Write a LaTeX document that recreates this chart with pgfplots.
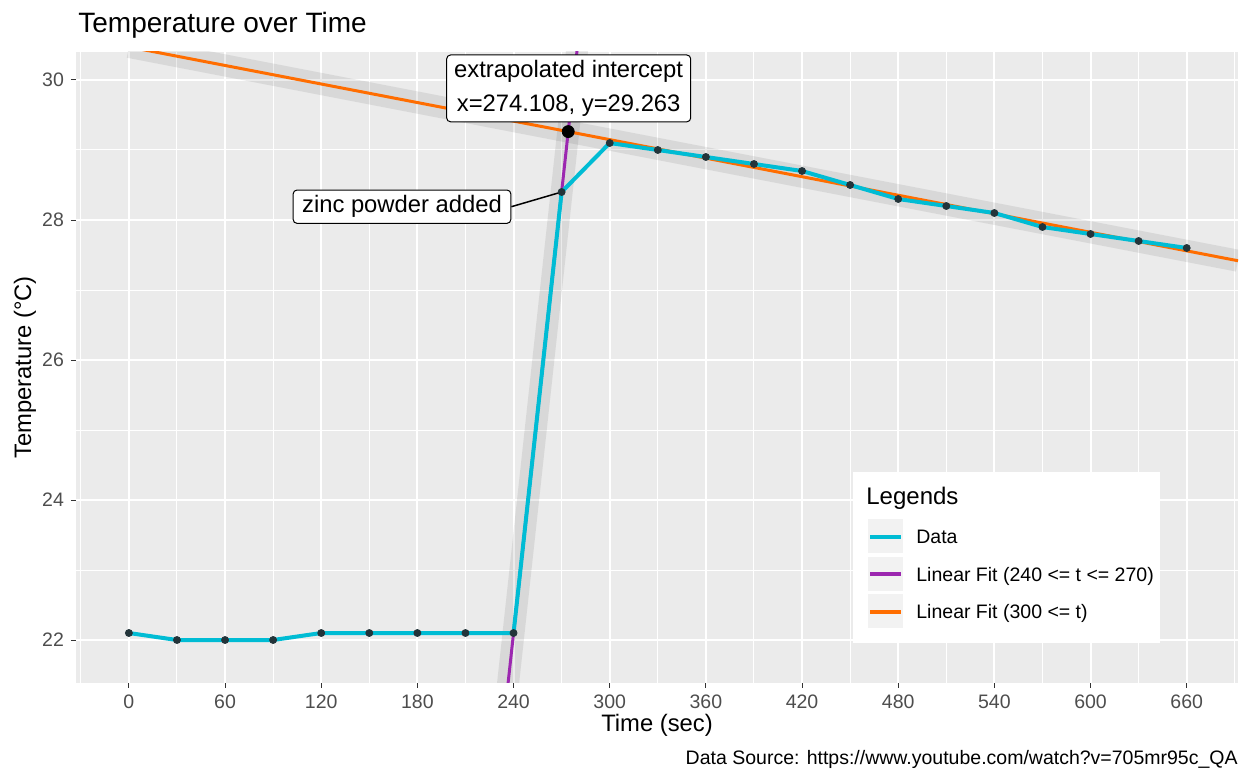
\documentclass[border=0pt]{standalone}
\usepackage{fontspec}
\setmainfont{Liberation Sans}
\usepackage{pgfplots}
\usepackage{pgfplotstable}
\pgfplotsset{compat=1.18}
\definecolor{panelbg}{HTML}{EBEBEB}
\definecolor{datacyan}{HTML}{00BCD4}
\definecolor{fitpurple}{HTML}{9C27B0}
\definecolor{fitorange}{HTML}{FF6D00}
\definecolor{ptcol}{RGB}{35,52,58}
\definecolor{ticklab}{HTML}{4D4D4D}
\definecolor{tickmark}{HTML}{333333}
\definecolor{keybg}{HTML}{F2F2F2}

\pgfplotstableread{
t T
0 22.1
30 22.0
60 22.0
90 22.0
120 22.1
150 22.1
180 22.1
210 22.1
240 22.1
270 28.4
300 29.1
330 29.0
360 28.9
390 28.8
420 28.7
450 28.5
480 28.3
510 28.2
540 28.1
570 27.9
600 27.8
630 27.7
660 27.6
}\datatable

\begin{document}
\begin{tikzpicture}[x=1pt,y=1pt]
\useasboundingbox (0,0) rectangle (622,385);
\begin{axis}[
  at={(38pt,43.5pt)}, anchor=south west,
  scale only axis, width=581pt, height=315.5pt,
  xmin=-33, xmax=692, ymin=21.386, ymax=30.4,
  axis background/.style={fill=panelbg},
  axis line style={draw=none},
  xtick={0,60,...,660}, ytick={22,24,26,28,30},
  minor xtick={-30,30,90,...,690}, minor ytick={21,23,...,29},
  grid=both,
  major grid style={white, line width=1pt},
  minor grid style={white, line width=0.5pt},
  tick align=outside,
  xtick pos=left, ytick pos=left,
  major tick length=2.5pt, minor tick length=0pt,
  tick style={tickmark, line width=0.5pt},
  ticklabel style={font=\fontsize{9.75}{11}\selectfont, text=ticklab},
  /pgf/number format/assume math mode=true,
  clip=true,
]
% bands
\addplot[draw=black, draw opacity=0.08, line width=11pt, line cap=butt, forget plot] coordinates {(235,21.05) (282,30.92)};
\addplot[draw=black, draw opacity=0.08, line width=11pt, line cap=butt, forget plot] coordinates {(0,30.4725) (692,27.418)};
% fits
\addplot[fitpurple, line width=1.5pt, forget plot] coordinates {(235,21.05) (282,30.92)};
\addplot[fitorange, line width=1.5pt, forget plot] coordinates {(-33,30.618) (692,27.418)};
% data
\addplot[datacyan, line width=2pt, forget plot] table[x=t, y=T] {\datatable};
\addplot[only marks, mark=*, mark size=1.75pt, ptcol, forget plot] table[x=t, y=T] {\datatable};
% intercept
\addplot[only marks, mark=*, mark size=3pt, black, forget plot] coordinates {(274.108,29.263)};
% annotations
\node[draw=black, fill=white, rounded corners=2pt, line width=0.5pt, align=center,
      inner xsep=3.8pt, inner ysep=2.8pt, font=\fontsize{11.9}{16.75}\selectfont]
  at (axis cs:274.4,29.88) {extrapolated intercept\\x=274.108, y=29.263};
\node[draw=black, fill=white, rounded corners=2pt, line width=0.5pt,
      inner xsep=4.5pt, inner ysep=2.8pt, font=\fontsize{11.9}{14}\selectfont] (zinc)
  at (axis cs:170.4,28.19) {zinc powder added};
\draw[black, line width=0.75pt] (zinc.east) -- (axis cs:270,28.4);
\end{axis}
% titles
\node[anchor=base west, inner sep=0pt, font=\fontsize{14}{16}\selectfont] at (39,368.5) {Temperature over Time};
\node[anchor=base, inner sep=0pt, font=\fontsize{11.9}{14}\selectfont] at (328.5,19) {Time (sec)};
\node[anchor=base, inner sep=0pt, rotate=90, font=\fontsize{11.9}{14}\selectfont] at (15.5,201.25) {Temperature (°C)};
\node[anchor=base east, inner sep=0pt, font=\fontsize{9.75}{11}\selectfont] at (619,2.5) {Data Source: https://www.youtube.com/watch?v=705mr95c\_QA};
% legend
\fill[white] (426.5,63.65) rectangle (580,149);
\node[anchor=base west, font=\fontsize{12}{14}\selectfont, inner sep=0pt] at (433,132.85) {Legends};
\fill[keybg] (434,108.35) rectangle (451.5,125.35);
\fill[keybg] (434,89.65) rectangle (451.5,106.65);
\fill[keybg] (434,70.85) rectangle (451.5,88);
\draw[datacyan, line width=2pt] (435,116.65) -- (450.35,116.65);
\draw[fitpurple, line width=2pt] (435,97.85) -- (450.35,97.85);
\draw[fitorange, line width=2pt] (435,79.15) -- (450.35,79.15);
\node[anchor=base west, font=\fontsize{9.75}{11}\selectfont, inner sep=0pt] at (458,113) {Data};
\node[anchor=base west, font=\fontsize{9.75}{11}\selectfont, inner sep=0pt] at (458,94.25) {Linear Fit (240 <= t <= 270)};
\node[anchor=base west, font=\fontsize{9.75}{11}\selectfont, inner sep=0pt] at (458,75.85) {Linear Fit (300 <= t)};
\end{tikzpicture}
\end{document}
